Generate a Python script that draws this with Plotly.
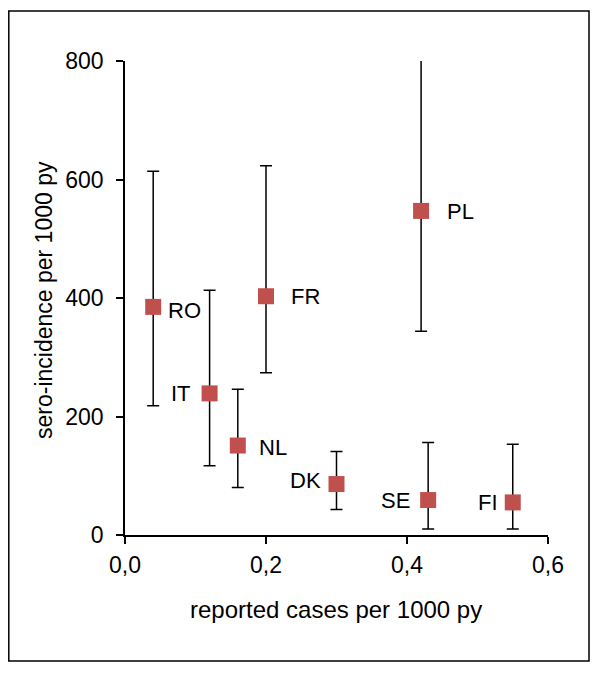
import plotly.graph_objects as go

# ---- data ----
countries = ["RO", "IT", "NL", "FR", "DK", "PL", "SE", "FI"]
reported = [0.04, 0.12, 0.16, 0.20, 0.30, 0.42, 0.43, 0.55]
sero = [385, 239, 151, 403, 86, 547, 59, 55]
sero_low = [218, 117, 80, 274, 43, 344, 10, 10]
sero_high = [614, 413, 246, 623, 141, 850, 156, 153]

x_ticks = [0.0, 0.2, 0.4, 0.6]
y_ticks = [0, 200, 400, 600, 800]

# ---- label styling (side, horizontal gap px, vertical shift px) ----
label_style = {
    "RO": ("right", 13, -4),
    "IT": ("left", 17, 0),
    "NL": ("right", 19, -2),
    "FR": ("right", 23, 0),
    "DK": ("left", 14, 4),
    "PL": ("right", 24, -1),
    "SE": ("left", 16, 0),
    "FI": ("left", 13, 0),
}

FONT = "Liberation Sans, Arial, sans-serif"
FS_LABEL = 22
FS_TICK = 23
FS_TITLE = 24

# page body has an 8px margin; plot area in page pixels: x 125..548, y 61..535
PAGE_OFF = 8
PL_, PR_, PT_, PB_ = 125, 548, 61, 535
W, H = 600 - PAGE_OFF, 676 - PAGE_OFF
PW, PH = PR_ - PL_, PB_ - PT_


def px_to_paper_x(px):
    return (px - PL_) / PW


def px_to_paper_y(py):
    return (PB_ - py) / PH


fig = go.Figure()
fig.add_trace(go.Scatter(
    x=reported, y=sero, mode="markers",
    marker=dict(symbol="square", size=16, color="#C0504D", line=dict(width=0)),
    error_y=dict(type="data", symmetric=False,
                 array=[h - v for h, v in zip(sero_high, sero)],
                 arrayminus=[v - l for v, l in zip(sero, sero_low)],
                 color="black", thickness=1.5, width=6),
    showlegend=False, cliponaxis=True,
))

for c, xv, yv in zip(countries, reported, sero):
    side, gap, ysh = label_style[c]
    fig.add_annotation(
        x=xv, y=yv, text=c, showarrow=False,
        xanchor="left" if side == "right" else "right", yanchor="middle",
        xshift=gap if side == "right" else -gap, yshift=ysh,
        font=dict(family=FONT, size=FS_LABEL, color="black"),
    )

# axis titles
fig.add_annotation(x=px_to_paper_x(336), y=px_to_paper_y(609), xref="paper", yref="paper",
                   text="reported cases per 1000 py", showarrow=False,
                   xanchor="center", yanchor="middle",
                   font=dict(family=FONT, size=FS_TITLE, color="black"))
fig.add_annotation(x=px_to_paper_x(44), y=px_to_paper_y(300), xref="paper", yref="paper",
                   text="sero-incidence per 1000 py", showarrow=False,
                   textangle=-90, xanchor="center", yanchor="middle",
                   font=dict(family=FONT, size=FS_TITLE - 1, color="black"))

# outer border box
fig.add_shape(type="rect", xref="paper", yref="paper",
              x0=px_to_paper_x(8.8), x1=px_to_paper_x(589),
              y0=px_to_paper_y(661), y1=px_to_paper_y(11),
              line=dict(color="black", width=1.5), fillcolor="rgba(0,0,0,0)")

axis_common = dict(showline=True, linecolor="black", linewidth=1.5,
                   ticks="outside", ticklen=7, tickwidth=1.5, tickcolor="black",
                   showgrid=False, zeroline=False,
                   tickfont=dict(family=FONT, size=FS_TICK, color="black"))

fig.update_xaxes(range=[0, 0.6], tickvals=x_ticks, tickformat=".1f",
                 ticklabelstandoff=2, **axis_common)
fig.update_yaxes(range=[0, 800], tickvals=y_ticks,
                 ticklabelstandoff=8, **axis_common)

fig.update_layout(
    width=W, height=H,
    margin=dict(l=PL_ - PAGE_OFF, r=600 - PR_, t=PT_ - PAGE_OFF, b=676 - PB_, pad=0),
    paper_bgcolor="white", plot_bgcolor="white",
    separators=", ",
    font=dict(family=FONT, size=FS_TICK, color="black"),
)

fig.write_html("out.html")
